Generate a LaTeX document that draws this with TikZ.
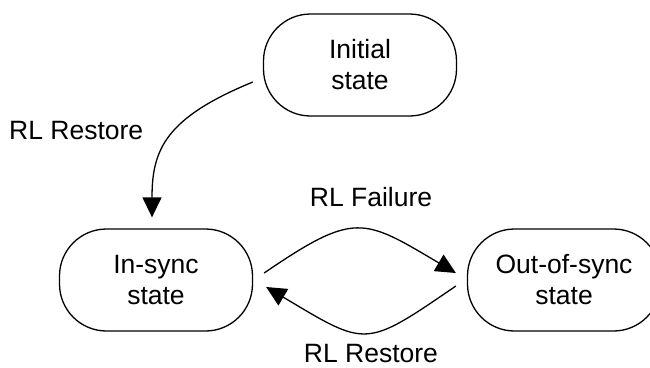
\documentclass[tikz,border=0pt]{standalone}
\usepackage{fontspec}
\setmainfont{Liberation Sans}
\usetikzlibrary{arrows.meta}
\tikzset{
  statebox/.style={draw, line width=1.3pt, rounded corners=47pt, minimum width=193pt, minimum height=102pt,
    align=center, inner sep=0pt, font=\fontsize{26.5}{31}\selectfont},
  lbl/.style={inner sep=0pt, text depth=0pt, font=\fontsize{26.5}{31}\selectfont},
  conn/.style={line width=1.3pt, -{Triangle[length=20pt,width=19pt]}},
}
\begin{document}
\begin{tikzpicture}[x=1pt, y=-1pt]
\clip (0,0) rectangle (650,367);
\node[statebox] (init) at (360,65) {Initial\\state};
\node[statebox] (insync) at (156,280) {In-sync\\state};
\node[statebox] (outsync) at (564,280) {Out-of-sync\\state};
\node[lbl, anchor=base west] (l1) at (9,139) {RL Restore};
\node[lbl, anchor=base] (l2) at (371,206) {RL Failure};
\node[lbl, anchor=base] (l3) at (371,362) {RL Restore};
\draw[conn] ([shift={(-10,17)}]init.west) .. controls (165,118) and (152,150) .. ([shift={(-4,-11)}]insync.north);
\draw[conn] ([shift={(11,-7)}]insync.east) .. controls (355,211) and (363,218) .. ([shift={(-11,-7)}]outsync.west);
\draw[conn] ([shift={(-11,6)}]outsync.west) .. controls (364,349) and (367,347) .. ([shift={(13,7)}]insync.east);
\end{tikzpicture}
\end{document}
